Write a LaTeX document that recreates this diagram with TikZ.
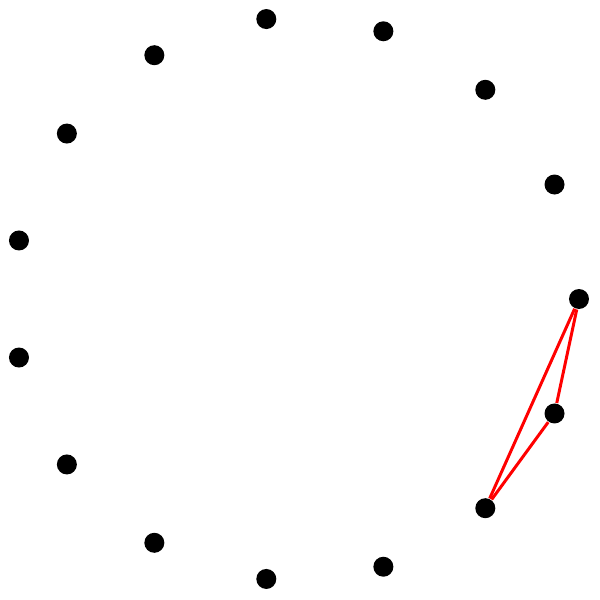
\documentclass[tikz,border=0pt]{standalone}
\usepackage{tikz}

\begin{document}
\begin{tikzpicture}[
  vertex/.style={circle, fill=black, inner sep=0pt, minimum size=0.2cm},
  edge/.style={red, line width=0.85pt},
]
  \useasboundingbox (-2.99,-3.01) rectangle (3.01,2.99);

  % 15 vertices on a (slightly stretched) circle
  \foreach \i in {0,...,14}
    \node[vertex] (v\i) at ({-0.031+2.831*cos(\i*24)},{2.815*sin(\i*24)}) {};

  \draw[edge] (v0) -- (v14);
  \draw[edge] (v0) -- (v13);
  \draw[edge] (v14) -- (v13);
\end{tikzpicture}
\end{document}
